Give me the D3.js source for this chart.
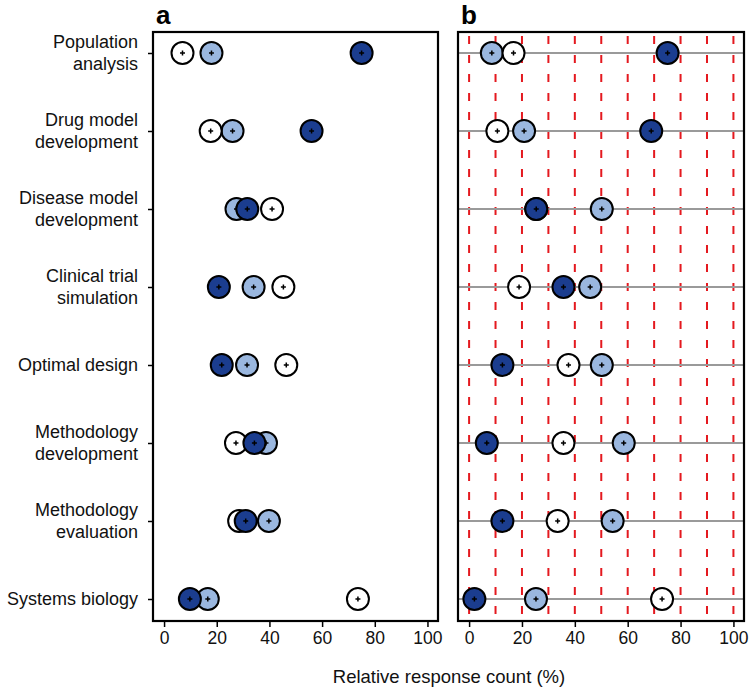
<!DOCTYPE html>
<html><head><meta charset="utf-8">
<script src="https://cdn.jsdelivr.net/npm/d3@7"></script>
<style>body{margin:0;background:#fff}svg{display:block}</style>
</head><body>
<script>
const categories = [
  ["Population", "analysis"],
  ["Drug model", "development"],
  ["Disease model", "development"],
  ["Clinical trial", "simulation"],
  ["Optimal design"],
  ["Methodology", "development"],
  ["Methodology", "evaluation"],
  ["Systems biology"]
];
const seriesNames = ["light", "white", "dark"];
// Panel a values (%)
const aLight = [18, 26, 27.5, 34, 31.5, 38.7, 39.8, 16.6];
const aWhite = [7, 17.7, 41, 45.3, 46.4, 27.3, 28.5, 73.6];
const aDark  = [75, 56, 31.6, 20.8, 21.9, 34.3, 31, 9.8];
// Panel b values (%)
const bLight = [8.6, 20.8, 50.2, 45.8, 50.2, 58.5, 54.3, 25.3];
const bWhite = [16.8, 10.7, 25.4, 18.9, 37.6, 35.7, 33.5, 73];
const bDark  = [75.1, 68.9, 25.4, 35.7, 12.6, 6.7, 12.6, 2];
const xTicks = [0, 20, 40, 60, 80, 100];
const gridVals = [0, 10, 20, 30, 40, 50, 60, 70, 80, 90, 100];
const fills = {light: "#9ab7df", white: "#ffffff", dark: "#1b3d8f"};

const W = 750, H = 687;
const svg = d3.select("body").append("svg").attr("width", W).attr("height", H)
  .style("font-family", "'Liberation Sans', Arial, Helvetica, sans-serif");

const plotTop = 32, plotBottom = 621;
const y = d3.scalePoint().domain(d3.range(categories.length)).range([53, 599]);

function panel(left, right, letter, data, isB) {
  const x = d3.scaleLinear().domain([-4.2, 104]).range([left, right]);
  const g = svg.append("g");
  if (isB) {
    g.selectAll("line.grid").data(gridVals).join("line")
      .attr("x1", d => x(d)).attr("x2", d => x(d))
      .attr("y1", plotTop + 4).attr("y2", plotBottom)
      .attr("stroke", "#e4191f").attr("stroke-width", 2)
      .attr("stroke-dasharray", "8,11");
    g.selectAll("line.row").data(categories).join("line")
      .attr("x1", left).attr("x2", right)
      .attr("y1", (d, i) => y(i)).attr("y2", (d, i) => y(i))
      .attr("stroke", "#9a9a9a").attr("stroke-width", 2);
  }
  const xa = g.append("g").attr("transform", `translate(0,${plotBottom})`)
    .call(d3.axisBottom(x).tickValues(xTicks).tickSize(6).tickPadding(5));
  xa.select(".domain").remove();
  xa.selectAll("line").attr("stroke", "#000").attr("stroke-width", 1.5);
  xa.selectAll("text").attr("font-size", 17.5).attr("fill", "#111")
    .attr("font-family", "'Liberation Sans', Arial, sans-serif");
  if (!isB) {
    const ya = g.append("g").attr("transform", `translate(${left},0)`)
      .call(d3.axisLeft(y).tickSize(5).tickFormat(""));
    ya.select(".domain").remove();
    ya.selectAll("line").attr("stroke", "#000").attr("stroke-width", 1.5);
  }
  seriesNames.forEach(s => {
    const vals = data[s];
    const pg = g.append("g");
    pg.selectAll("circle").data(vals).join("circle")
      .attr("cx", d => x(d)).attr("cy", (d, i) => y(i)).attr("r", 11)
      .attr("fill", fills[s]).attr("stroke", "#000").attr("stroke-width", 2);
    pg.selectAll("path").data(vals).join("path")
      .attr("d", (d, i) => { const cx = x(d), cy = y(i);
        return `M${cx-2.5},${cy}H${cx+2.5}M${cx},${cy-2.5}V${cy+2.5}`; })
      .attr("stroke", "#000").attr("stroke-width", 1.5);
  });
  g.append("rect").attr("x", left).attr("y", plotTop)
    .attr("width", right - left).attr("height", plotBottom - plotTop)
    .attr("fill", "none").attr("stroke", "#000").attr("stroke-width", 2.2);
  g.append("text").attr("x", left + 3).attr("y", 24).text(letter)
    .attr("font-size", 26).attr("font-weight", "bold");
}

panel(153, 438, "a", {light: aLight, white: aWhite, dark: aDark}, false);
panel(458, 744, "b", {light: bLight, white: bWhite, dark: bDark}, true);

const lab = svg.append("g");
categories.forEach((lines, i) => {
  const t = lab.append("text").attr("text-anchor", "end").attr("font-size", 18).attr("fill", "#111");
  const n = lines.length;
  lines.forEach((ln, j) => {
    t.append("tspan").attr("x", 138)
      .attr("y", y(i) + (j - (n - 1) / 2) * 22 + 6).text(ln);
  });
});

svg.append("text").attr("x", 449).attr("y", 683).attr("text-anchor", "middle")
  .attr("font-size", 18.5).attr("fill", "#111").text("Relative response count (%)");
</script>
</body></html>
